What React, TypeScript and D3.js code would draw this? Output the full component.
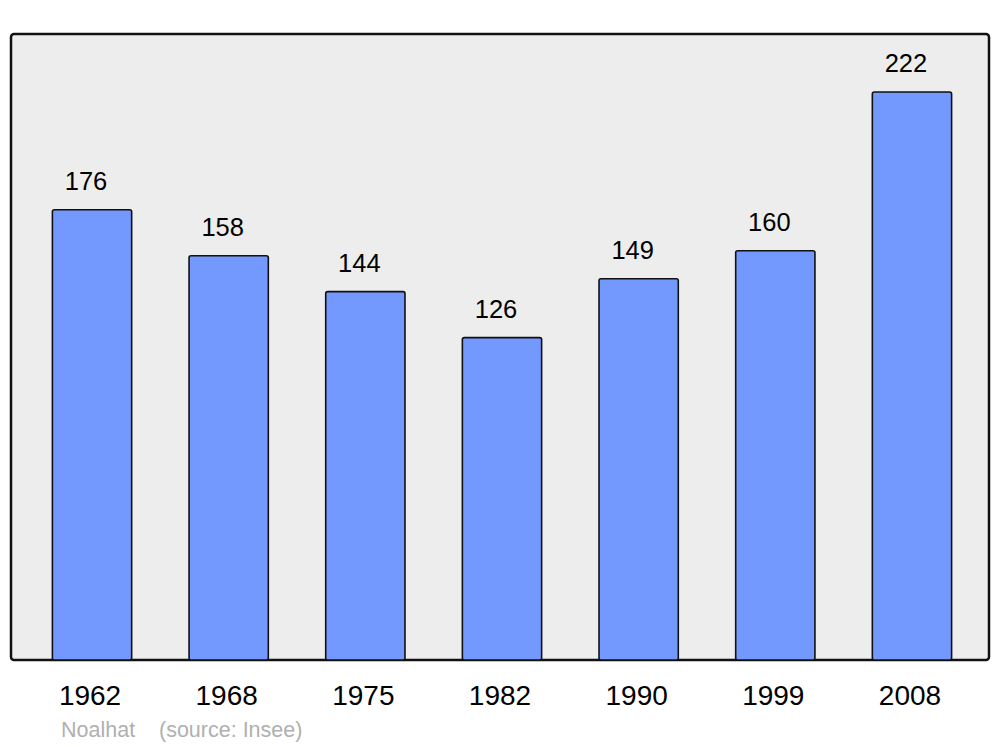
import React from "react";
import * as d3 from "d3";

const years = ["1962", "1968", "1975", "1982", "1990", "1999", "2008"];
const population = [176, 158, 144, 126, 149, 160, 222];
const credit = "Noalhat";
const source = "(source: Insee)";

export default function App() {
  const W = 1000, H = 747;
  const frame = { x0: 11, y0: 34, x1: 989, y1: 660 };
  const x = d3.scaleBand<string>().domain(years).range([23.7, 980.3]).paddingInner(0.42).paddingOuter(0.21);
  const y = d3.scaleLinear().domain([0, 244.7]).range([frame.y1, frame.y0]);
  const font = "'Liberation Sans', Arial, sans-serif";
  return (
    <svg width={W} height={H} style={{ position: "absolute", left: 0, top: 0 }} fontFamily={font}>
      <rect x={0} y={0} width={W} height={H} fill="#ffffff" />
      <rect x={frame.x0} y={frame.y0} width={frame.x1 - frame.x0} height={frame.y1 - frame.y0}
        rx={3} fill="#ededed" stroke="#111" strokeWidth={2.5} />
      {years.map((yr, i) => {
        const bx = x(yr)!;
        const bw = x.bandwidth();
        const top = y(population[i]);
        return (
          <g key={yr}>
            <rect x={bx} y={top} width={bw} height={frame.y1 - top} rx={2}
              fill="#7399ff" stroke="#111" strokeWidth={1.6} />
            <text x={bx + bw / 2 - 6} y={top - 20} textAnchor="middle" fontSize={25.5} fill="#000">{population[i]}</text>
            <text x={bx + bw / 2 - 2} y={705} textAnchor="middle" fontSize={28} fill="#000">{yr}</text>
          </g>
        );
      })}
      <text x={61} y={737} fontSize={21.5} fill="#b0b0b0">{credit}</text>
      <text x={159} y={737} fontSize={21.5} fill="#b0b0b0">{source}</text>
    </svg>
  );
}
